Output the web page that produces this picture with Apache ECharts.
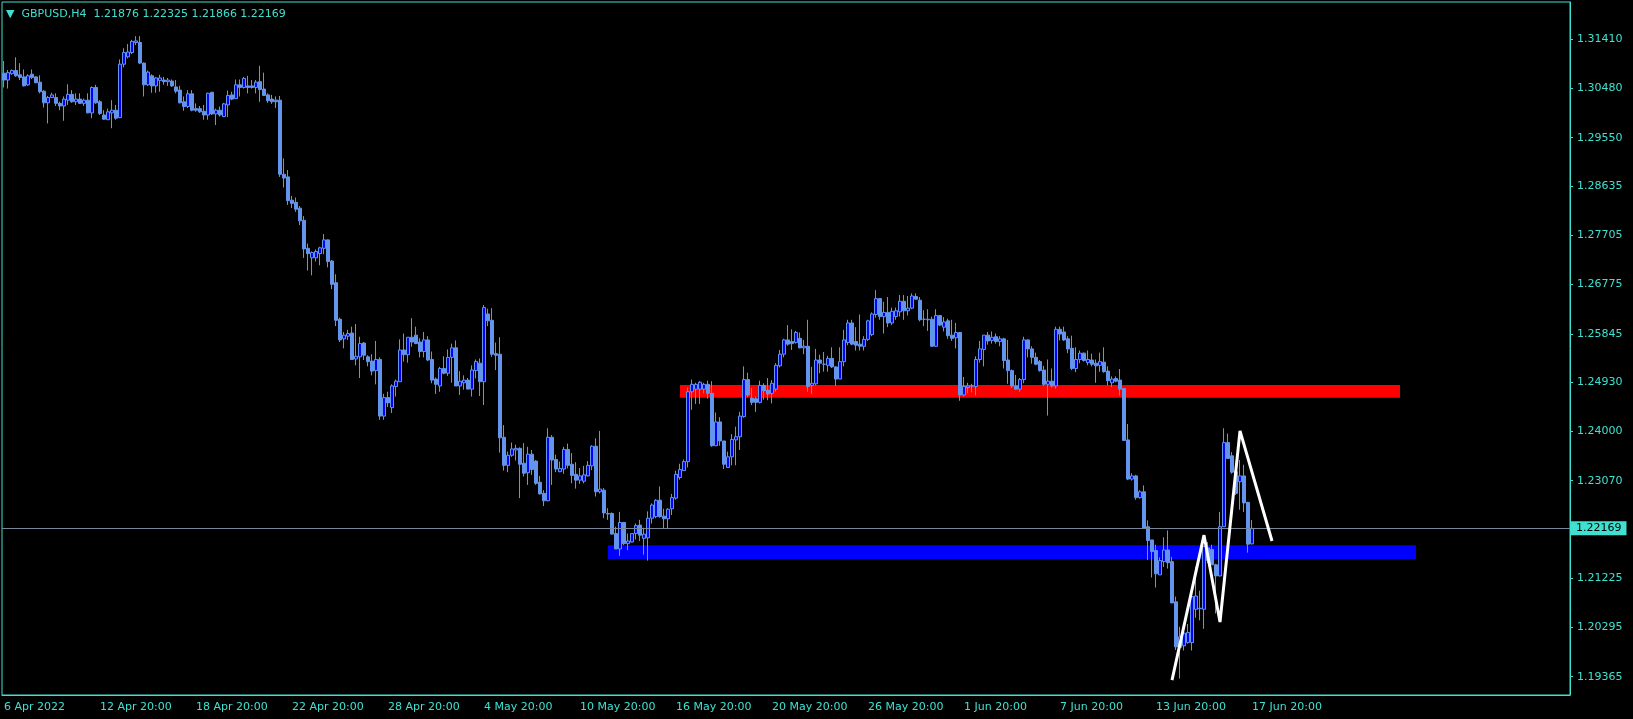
<!DOCTYPE html>
<html><head><meta charset="utf-8">
<script src="https://cdn.jsdelivr.net/npm/echarts@6/dist/echarts.min.js"></script>
<style>html,body{margin:0;padding:0;background:#000;}#c{width:1633px;height:719px;}</style>
</head><body><div id="c"></div>
<script>
const symbolName = 'GBPUSD,H4';
const tickLabels = ['6 Apr 2022','12 Apr 20:00','18 Apr 20:00','22 Apr 20:00','28 Apr 20:00','4 May 20:00','10 May 20:00','16 May 20:00','20 May 20:00','26 May 20:00','1 Jun 20:00','7 Jun 20:00','13 Jun 20:00','17 Jun 20:00'];
const barsPerTick = 24;
const priceTicks = [1.19365,1.20295,1.21225,1.23070,1.24000,1.24930,1.25845,1.26775,1.27705,1.28635,1.29550,1.30480,1.31410];
// rows: [open, high, low, close]
const seg1 = [
[1.3077,1.3100,1.3050,1.3064],[1.3064,1.3083,1.3048,1.3078],[1.3076,1.3084,1.3074,1.3082],[1.3082,1.3107,1.3070,1.3072],
[1.3074,1.3096,1.3064,1.3069],[1.3070,1.3084,1.3052,1.3053],[1.3055,1.3075,1.3053,1.3072],[1.3075,1.3084,1.3066,1.3069],
[1.3070,1.3071,1.3058,1.3059],[1.3060,1.3073,1.3039,1.3042],[1.3043,1.3045,1.3012,1.3021],[1.3021,1.3034,1.2982,1.3031],
[1.3031,1.3040,1.3030,1.3036],[1.3031,1.3039,1.3015,1.3020],[1.3020,1.3023,1.3007,1.3015],[1.3015,1.3033,1.2987,1.3028],
[1.3026,1.3056,1.3017,1.3037],[1.3037,1.3045,1.3021,1.3023],[1.3023,1.3039,1.3017,1.3028],[1.3028,1.3039,1.3019,1.3020],
[1.3020,1.3029,1.3015,1.3026],[1.3026,1.3039,1.3001,1.3002],[1.3002,1.3052,1.2992,1.3050],[1.3050,1.3055,1.3019,1.3021],
[1.3023,1.3026,1.2998,1.3001],[1.2998,1.3007,1.2989,1.2990],[1.2989,1.3010,1.2989,1.3004],[1.3002,1.3026,1.2973,1.3007],
[1.3007,1.3017,1.2989,1.2992],[1.2993,1.3103,1.2992,1.3094],[1.3094,1.3124,1.3088,1.3116],[1.3108,1.3132,1.3105,1.3117],
[1.3116,1.3140,1.3113,1.3137],[1.3135,1.3147,1.3130,1.3138],[1.3135,1.3147,1.3094,1.3096],[1.3096,1.3097,1.3033,1.3055],
[1.3055,1.3082,1.3053,1.3079],[1.3072,1.3075,1.3040,1.3053],[1.3053,1.3070,1.3040,1.3068],[1.3063,1.3074,1.3042,1.3068],
[1.3064,1.3070,1.3055,1.3061],[1.3061,1.3068,1.3053,1.3064],[1.3062,1.3065,1.3051,1.3053],[1.3051,1.3064,1.3039,1.3043],
[1.3045,1.3053,1.3020,1.3021],[1.3023,1.3033,1.3006,1.3014],[1.3014,1.3045,1.3011,1.3038],[1.3038,1.3045,1.3005,1.3007],
[1.3010,1.3020,1.3004,1.3007],[1.3010,1.3015,1.3002,1.3004],[1.3005,1.3017,1.2989,1.2998],[1.2998,1.3040,1.2989,1.3039],
[1.3041,1.3041,1.2998,1.3000],[1.3000,1.3010,1.2979,1.3007],[1.3007,1.3014,1.2995,1.2998],[1.2995,1.3021,1.2994,1.3019],
[1.3017,1.3044,1.2994,1.3035],[1.3036,1.3042,1.3026,1.3028],[1.3029,1.3065,1.3028,1.3055],[1.3055,1.3065,1.3033,1.3050],
[1.3050,1.3070,1.3048,1.3067],[1.3053,1.3072,1.3039,1.3050],[1.3053,1.3064,1.3048,1.3050],[1.3050,1.3064,1.3039,1.3060],
[1.3061,1.3091,1.3023,1.3046],[1.3047,1.3078,1.3034,1.3035],[1.3036,1.3039,1.3021,1.3025],[1.3028,1.3036,1.3019,1.3023],
[1.3026,1.3033,1.3011,1.3023],[1.3026,1.3034,1.2881,1.2886]
];
const seg2 = [
[1.2886,1.2916,1.2861,1.2879],[1.2881,1.2894,1.2828,1.2836],[1.2837,1.2845,1.2822,1.2831],[1.2833,1.2842,1.2815,1.2820],
[1.2822,1.2826,1.2790,1.2798],[1.2799,1.2807,1.2728,1.2745],[1.2746,1.2755,1.2704,1.2736],[1.2728,1.2740,1.2695,1.2738],
[1.2728,1.2744,1.2721,1.2740],[1.2736,1.2749,1.2714,1.2747],[1.2746,1.2773,1.2735,1.2762],[1.2762,1.2763,1.2710,1.2721],
[1.2722,1.2724,1.2669,1.2678],[1.2681,1.2697,1.2599,1.2610],[1.2612,1.2615,1.2569,1.2573],[1.2575,1.2588,1.2557,1.2582],
[1.2580,1.2592,1.2573,1.2585],[1.2586,1.2598,1.2535,1.2536],[1.2537,1.2603,1.2525,1.2542],[1.2541,1.2579,1.2501,1.2566],
[1.2567,1.2569,1.2535,1.2544],[1.2541,1.2544,1.2523,1.2532],[1.2533,1.2546,1.2506,1.2514],[1.2515,1.2571,1.2489,1.2536],
[1.2536,1.2540,1.2422,1.2429],[1.2429,1.2471,1.2422,1.2464],[1.2464,1.2475,1.2446,1.2454],[1.2445,1.2489,1.2435,1.2486],
[1.2485,1.2498,1.2466,1.2495],[1.2494,1.2574,1.2494,1.2554],[1.2554,1.2585,1.2532,1.2545],[1.2545,1.2578,1.2530,1.2578],
[1.2578,1.2614,1.2560,1.2569],[1.2582,1.2598,1.2565,1.2566],[1.2569,1.2576,1.2540,1.2551],[1.2551,1.2588,1.2540,1.2573],
[1.2573,1.2580,1.2533,1.2535],[1.2536,1.2551,1.2491,1.2497],[1.2499,1.2502,1.2471,1.2489],[1.2486,1.2522,1.2475,1.2519],
[1.2519,1.2542,1.2508,1.2510],[1.2510,1.2555,1.2505,1.2540],[1.2540,1.2566,1.2492,1.2558],[1.2558,1.2572,1.2486,1.2486],
[1.2486,1.2514,1.2469,1.2495],[1.2492,1.2506,1.2479,1.2497],[1.2497,1.2501,1.2480,1.2480],[1.2480,1.2525,1.2466,1.2516],
[1.2515,1.2536,1.2500,1.2532],[1.2529,1.2538,1.2467,1.2494],[1.2494,1.2639,1.2450,1.2634],[1.2622,1.2632,1.2599,1.2609]
];
const seg3 = [
[1.2610,1.2633,1.2541,1.2546],[1.2547,1.2568,1.2516,1.2544],[1.2546,1.2578,1.2360,1.2388],[1.2389,1.2412,1.2326,1.2336],
[1.2336,1.2362,1.2323,1.2355],[1.2355,1.2379,1.2352,1.2367],[1.2365,1.2375,1.2345,1.2368],[1.2368,1.2370,1.2274,1.2338],
[1.2340,1.2378,1.2315,1.2321],[1.2322,1.2371,1.2299,1.2357],[1.2357,1.2365,1.2318,1.2328],[1.2344,1.2346,1.2299,1.2302],
[1.2304,1.2316,1.2281,1.2282],[1.2283,1.2289,1.2259,1.2269],[1.2269,1.2406,1.2268,1.2389],[1.2389,1.2393,1.2299,1.2346],
[1.2347,1.2356,1.2323,1.2329],[1.2324,1.2343,1.2323,1.2330],[1.2329,1.2371,1.2320,1.2366],[1.2366,1.2377,1.2330,1.2336],
[1.2338,1.2359,1.2302,1.2317],[1.2319,1.2342,1.2292,1.2308],[1.2308,1.2331,1.2301,1.2316],[1.2306,1.2335,1.2302,1.2318],
[1.2316,1.2344,1.2315,1.2336],[1.2335,1.2374,1.2327,1.2372],[1.2372,1.2387,1.2277,1.2286],[1.2286,1.2401,1.2283,1.2291],
[1.2289,1.2293,1.2236,1.2246],[1.2245,1.2255,1.2233,1.2244],[1.2245,1.2247,1.2206,1.2206],[1.2207,1.2220,1.2178,1.2178],
[1.2178,1.2248,1.2165,1.2228],[1.2228,1.2229,1.2185,1.2188],[1.2188,1.2207,1.2176,1.2193],[1.2191,1.2208,1.2190,1.2207],
[1.2207,1.2226,1.2196,1.2222],[1.2223,1.2233,1.2193,1.2204],[1.2198,1.2218,1.2167,1.2206],[1.2199,1.2249,1.2156,1.2236],
[1.2236,1.2264,1.2226,1.2261],[1.2239,1.2272,1.2236,1.2270],[1.2270,1.2296,1.2237,1.2239],[1.2240,1.2254,1.2217,1.2235],
[1.2235,1.2255,1.2217,1.2253],[1.2254,1.2282,1.2242,1.2275],[1.2274,1.2326,1.2271,1.2319],[1.2313,1.2339,1.2309,1.2328],
[1.2326,1.2347,1.2326,1.2343],[1.2343,1.2483,1.2332,1.2475]
];
const seg4 = [
[1.2475,1.2498,1.2441,1.2489],[1.2480,1.2492,1.2452,1.2489],[1.2480,1.2495,1.2452,1.2493],[1.2480,1.2492,1.2472,1.2489],
[1.2489,1.2496,1.2462,1.2472],[1.2472,1.2495,1.2371,1.2373],[1.2373,1.2436,1.2373,1.2418],[1.2418,1.2427,1.2373,1.2382],
[1.2382,1.2382,1.2329,1.2338],[1.2332,1.2362,1.2332,1.2352],[1.2352,1.2395,1.2336,1.2385],[1.2384,1.2409,1.2336,1.2390],
[1.2390,1.2437,1.2365,1.2429],[1.2428,1.2523,1.2426,1.2498],[1.2498,1.2511,1.2465,1.2469],[1.2463,1.2482,1.2450,1.2455],
[1.2462,1.2466,1.2437,1.2455],[1.2455,1.2496,1.2453,1.2487],[1.2487,1.2491,1.2460,1.2477],[1.2478,1.2501,1.2459,1.2471],
[1.2472,1.2497,1.2453,1.2491],[1.2480,1.2529,1.2475,1.2525],[1.2524,1.2554,1.2521,1.2546],[1.2546,1.2575,1.2540,1.2573],
[1.2573,1.2601,1.2562,1.2565],[1.2570,1.2593,1.2554,1.2566],[1.2568,1.2590,1.2566,1.2587],[1.2576,1.2587,1.2557,1.2558],
[1.2558,1.2573,1.2546,1.2561],[1.2561,1.2611,1.2475,1.2485],[1.2487,1.2522,1.2471,1.2491],[1.2490,1.2556,1.2487,1.2535],
[1.2535,1.2545,1.2510,1.2529],[1.2527,1.2550,1.2513,1.2527],[1.2525,1.2543,1.2513,1.2538],[1.2538,1.2559,1.2520,1.2522],
[1.2522,1.2523,1.2486,1.2499],[1.2499,1.2559,1.2499,1.2532],[1.2532,1.2592,1.2523,1.2573],[1.2568,1.2611,1.2563,1.2605],
[1.2605,1.2611,1.2563,1.2565],[1.2570,1.2597,1.2553,1.2563],[1.2565,1.2621,1.2553,1.2561],[1.2561,1.2580,1.2553,1.2574],
[1.2574,1.2611,1.2571,1.2609],[1.2583,1.2625,1.2580,1.2622],[1.2621,1.2667,1.2615,1.2651],[1.2651,1.2652,1.2611,1.2617],
[1.2617,1.2645,1.2585,1.2625],[1.2625,1.2654,1.2597,1.2605]
];
const seg5 = [
[1.2605,1.2634,1.2601,1.2627],[1.2617,1.2634,1.2611,1.2628],[1.2626,1.2658,1.2617,1.2646],[1.2646,1.2658,1.2611,1.2628],
[1.2628,1.2656,1.2619,1.2633],[1.2633,1.2661,1.2631,1.2656],[1.2655,1.2661,1.2649,1.2650],[1.2648,1.2654,1.2608,1.2611],
[1.2612,1.2629,1.2599,1.2612],[1.2612,1.2631,1.2590,1.2611],[1.2612,1.2617,1.2560,1.2561],[1.2561,1.2631,1.2560,1.2619],
[1.2619,1.2620,1.2599,1.2601],[1.2597,1.2616,1.2589,1.2607],[1.2609,1.2613,1.2575,1.2581],[1.2582,1.2611,1.2571,1.2576],
[1.2577,1.2605,1.2557,1.2587],[1.2587,1.2588,1.2458,1.2469],[1.2469,1.2503,1.2466,1.2485],[1.2483,1.2492,1.2472,1.2486],
[1.2486,1.2490,1.2474,1.2486],[1.2485,1.2542,1.2468,1.2536],[1.2536,1.2571,1.2530,1.2556],[1.2555,1.2582,1.2523,1.2582],
[1.2582,1.2588,1.2564,1.2571],[1.2572,1.2589,1.2566,1.2578],[1.2579,1.2585,1.2566,1.2570],[1.2570,1.2580,1.2561,1.2575],
[1.2575,1.2577,1.2519,1.2534],[1.2535,1.2573,1.2490,1.2515],[1.2515,1.2517,1.2482,1.2486],[1.2486,1.2507,1.2479,1.2480],
[1.2480,1.2501,1.2475,1.2498],[1.2498,1.2579,1.2491,1.2573],[1.2573,1.2574,1.2540,1.2556],[1.2556,1.2561,1.2528,1.2540],
[1.2540,1.2549,1.2525,1.2527],[1.2532,1.2535,1.2513,1.2515],[1.2516,1.2524,1.2486,1.2489],[1.2489,1.2536,1.2430,1.2495],
[1.2495,1.2519,1.2483,1.2486],[1.2486,1.2598,1.2481,1.2593],[1.2593,1.2598,1.2572,1.2584],[1.2588,1.2598,1.2571,1.2573],
[1.2575,1.2580,1.2548,1.2556],[1.2557,1.2581,1.2516,1.2519],[1.2519,1.2559,1.2512,1.2536],[1.2536,1.2553,1.2529,1.2548],
[1.2548,1.2549,1.2532,1.2534],[1.2530,1.2553,1.2525,1.2536],[1.2535,1.2547,1.2523,1.2527],[1.2529,1.2536,1.2492,1.2524],
[1.2525,1.2549,1.2513,1.2532]
];
const seg6 = [
[1.2531,1.2559,1.2511,1.2513],[1.2514,1.2523,1.2487,1.2496],[1.2492,1.2504,1.2484,1.2499],[1.2500,1.2504,1.2493,1.2495],
[1.2497,1.2518,1.2468,1.2480],[1.2481,1.2481,1.2383,1.2383],[1.2384,1.2414,1.2308,1.2310],[1.2310,1.2321,1.2307,1.2316],
[1.2316,1.2318,1.2271,1.2275],[1.2275,1.2289,1.2273,1.2286],[1.2286,1.2298,1.2217,1.2217],[1.2220,1.2232,1.2157,1.2194],
[1.2195,1.2195,1.2124,1.2173],[1.2175,1.2186,1.2105,1.2131],[1.2129,1.2162,1.2129,1.2156],[1.2154,1.2200,1.2144,1.2176],
[1.2176,1.2213,1.2141,1.2152],[1.2154,1.2163,1.2076,1.2076],[1.2078,1.2088,1.1987,1.1993],[1.1992,1.2031,1.1933,1.2012],
[1.1995,1.2029,1.1986,1.2019],[1.2001,1.2036,1.1999,1.2020],[1.2001,1.2106,1.1986,1.2088],[1.2064,1.2144,1.2048,1.2089],
[1.2065,1.2099,1.2043,1.2066],[1.2064,1.2183,1.2027,1.2183],[1.2180,1.2191,1.2151,1.2156],[1.2177,1.2186,1.2148,1.2148],
[1.2148,1.2150,1.2056,1.2127],[1.2127,1.2248,1.2126,1.2220],[1.2220,1.2406,1.2220,1.2379],[1.2379,1.2396,1.2349,1.2349],
[1.2354,1.2361,1.2320,1.2323],[1.2324,1.2329,1.2280,1.2283],[1.2305,1.2346,1.2252,1.2316],[1.2316,1.2337,1.2248,1.2265],
[1.2266,1.2267,1.2171,1.2187],[1.21876,1.22325,1.21866,1.22169]
];
const zigzagIndex = [292, 300, 304, 309, 317];
const zigzagPrice = [1.1930, 1.2204, 1.2040, 1.2401, 1.2193];
const resistanceZone = [169, 349, 1.24876, 1.24636];
const supportZone = [151, 353, 1.21852, 1.21588];
const bidPrice = 1.22169;
const slotCount = 392;

const bars = seg1.concat(seg2, seg3, seg4, seg5, seg6);
const categories = Array.from({length: slotCount}, (_, i) => String(i));
const candleData = bars.map(b => [b[0], b[3], b[2], b[1]]);
const zig = new Array(zigzagIndex[zigzagIndex.length - 1] + 1).fill(null);
zigzagIndex.forEach((k, j) => { zig[k] = zigzagPrice[j]; });
const last = bars[bars.length - 1];
const TQ = '#40E0D0';
const FONT = 'DejaVu Sans';
const isTick = (i) => i % barsPerTick === 0 && i / barsPerTick < tickLabels.length;

const chart = echarts.init(document.getElementById('c'), null, {renderer: 'canvas'});
chart.setOption({
  backgroundColor: '#000000',
  animation: false,
  title: {
    text: '{t|▼}  ' + symbolName + '  ' + last.map(v => v.toFixed(5)).join(' '),
    left: 6, top: 9, padding: 0,
    textStyle: {color: TQ, fontSize: 11, fontWeight: 'normal', fontFamily: FONT,
      rich: {t: {fontSize: 11, color: TQ, fontFamily: FONT}}}
  },
  grid: {left: 2, top: 2, width: 1568, bottom: 24, show: true, borderColor: TQ, borderWidth: 1, containLabel: false},
  xAxis: {
    type: 'category', data: categories, boundaryGap: true,
    axisLine: {lineStyle: {color: TQ, width: 1}},
    axisTick: {alignWithLabel: true, length: 3, interval: isTick, lineStyle: {color: TQ}},
    axisLabel: {interval: isTick, formatter: (v, i) => tickLabels[i / barsPerTick] || '', align: 'left',
      color: TQ, fontSize: 11, fontFamily: FONT, margin: 7},
    splitLine: {show: false}
  },
  yAxis: {
    type: 'value', position: 'right', min: 1.19020, max: 1.32115, scale: true,
    axisLine: {show: true, lineStyle: {color: TQ, width: 1}},
    axisTick: {show: true, length: 3, customValues: priceTicks, lineStyle: {color: TQ}},
    axisLabel: {customValues: priceTicks, formatter: v => v.toFixed(5), color: TQ, fontSize: 11, fontFamily: FONT, margin: 7,
      padding: [6, 0, 0, 0]},
    splitLine: {show: false}
  },
  series: [
    {
      type: 'line', data: categories.map(() => null), z: 1, silent: true, symbol: 'none',
      markArea: {silent: true, data: [
        [{xAxis: resistanceZone[0], yAxis: resistanceZone[2], itemStyle: {color: '#FF0000', opacity: 1}}, {xAxis: resistanceZone[1], yAxis: resistanceZone[3]}],
        [{xAxis: supportZone[0], yAxis: supportZone[2], itemStyle: {color: '#0000FF', opacity: 1}}, {xAxis: supportZone[1], yAxis: supportZone[3]}]
      ]}
    },
    {
      type: 'candlestick', data: candleData, z: 2, barWidth: 3, silent: true,
      itemStyle: {color: '#0000FF', color0: '#6495ED', borderColor: '#6495ED', borderColor0: '#6495ED', borderColorDoji: '#6495ED', borderWidth: 1},
      markLine: {
        silent: true, symbol: ['none', 'none'], animation: false, precision: 5,
        data: [{yAxis: bidPrice}],
        lineStyle: {color: '#778899', width: 1, type: 'solid'},
        label: {position: 'end', formatter: () => bidPrice.toFixed(5), backgroundColor: TQ, color: '#000000',
          fontSize: 11, fontFamily: FONT, padding: [2, 5, 1, 5], distance: 1},
        emphasis: {disabled: true}
      }
    },
    {
      type: 'line', data: zig, connectNulls: true, symbol: 'none', z: 5, silent: true,
      lineStyle: {color: '#FFFFFF', width: 3}
    }
  ]
});
</script>
</body></html>
